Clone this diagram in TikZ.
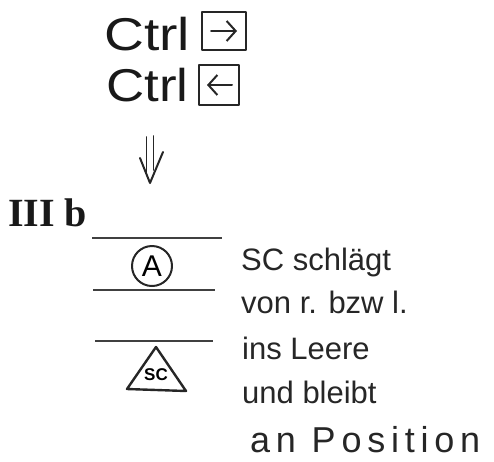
\documentclass[tikz,border=0pt]{standalone}
\usepackage{fontspec}
\setmainfont{Liberation Sans}
\newfontfamily\serifhand{Liberation Serif}
\newfontfamily\widehand[LetterSpace=16]{Liberation Sans}
\usetikzlibrary{arrows.meta}
\begin{document}
\begin{tikzpicture}[x=1pt,y=-1pt,
  ink/.style={draw=black!85,line width=2.4pt,line cap=round,line join=round},
  note/.style={anchor=base west,inner sep=0pt,text=black!85,font=\fontsize{31}{31}\selectfont},
  ctrl/.style={anchor=base west,inner sep=0pt,text=black!90,font=\fontsize{46}{46}\selectfont},
  keybox/.style={ink,minimum width=44pt,minimum height=38pt,inner sep=0pt},
  keyarrow/.style={ink,line width=2pt,-{Straight Barb[length=9pt,width=20pt,line width=2pt]}},
  rule/.style={draw=black!75,line width=1.2pt}]
  \useasboundingbox (0,0) rectangle (494,461);

  % keyboard shortcuts
  \node[ctrl,xscale=1.2,transform shape] (c1) at (104,50) {Ctrl};
  \node[keybox] (k1) at (224,31) {};
  \draw[keyarrow] ([xshift=-13pt]k1.center) -- ([xshift=13pt]k1.center);
  \node[ctrl,xscale=1.15,transform shape] (c2) at (106,101) {Ctrl};
  \node[keybox,minimum width=40pt,minimum height=40pt] (k2) at (219,85) {};
  \draw[keyarrow] ([xshift=13pt]k2.center) -- ([xshift=-12pt]k2.center);

  % implication arrow: two shafts and an open head
  \coordinate (i1) at (146.5,137);
  \coordinate (i2) at (146.5,172);
  \coordinate (i3) at (153.5,136);
  \coordinate (i4) at (153.5,170);
  \coordinate (h1) at (140,158);
  \coordinate (h2) at (150,183);
  \coordinate (h3) at (163,152);
  \draw[ink,line width=1.7pt] (i1) -- (i2);
  \draw[ink,line width=1.7pt] (i3) -- (i4);
  \draw[ink,line width=2pt] (h1) -- (h2) -- (h3);

  % section label
  \node[anchor=base west,inner sep=0pt,text=black!90,font=\fontsize{40}{40}\selectfont\serifhand\bfseries] (sec) at (8,226) {III b};

  % position rows
  \coordinate (r1a) at (92,238);  \coordinate (r1b) at (222,238);
  \coordinate (r2a) at (93,290);  \coordinate (r2b) at (215,290);
  \coordinate (r3a) at (95,341);  \coordinate (r3b) at (213,341);
  \draw[rule] (r1a) -- (r1b);
  \draw[rule] (r2a) -- (r2b);
  \draw[rule] (r3a) -- (r3b);

  \node[circle,ink,line width=2pt,minimum size=40pt,inner sep=0pt,font=\fontsize{30}{30}\selectfont] (A) at (152,266) {A};

  \coordinate (t1) at (156,347);
  \coordinate (t2) at (186,391);
  \coordinate (t3) at (127,389);
  \draw[ink] (t1) -- (t2) -- (t3) -- cycle;
  \node[inner sep=0pt,font=\fontsize{17}{17}\selectfont\bfseries] (sc) at (156,375) {SC};

  % description
  \node[note] (n1) at (241,270) {SC schlägt};
  \node[note] (n2) at (241,313) {von r. bzw l.};
  \node[note] (n3) at (242,359) {ins Leere};
  \node[note] (n4) at (242,403) {und bleibt};
  \node[note,font=\fontsize{36}{36}\selectfont\widehand] (n5) at (250,452) {an Position};
\end{tikzpicture}
\end{document}
